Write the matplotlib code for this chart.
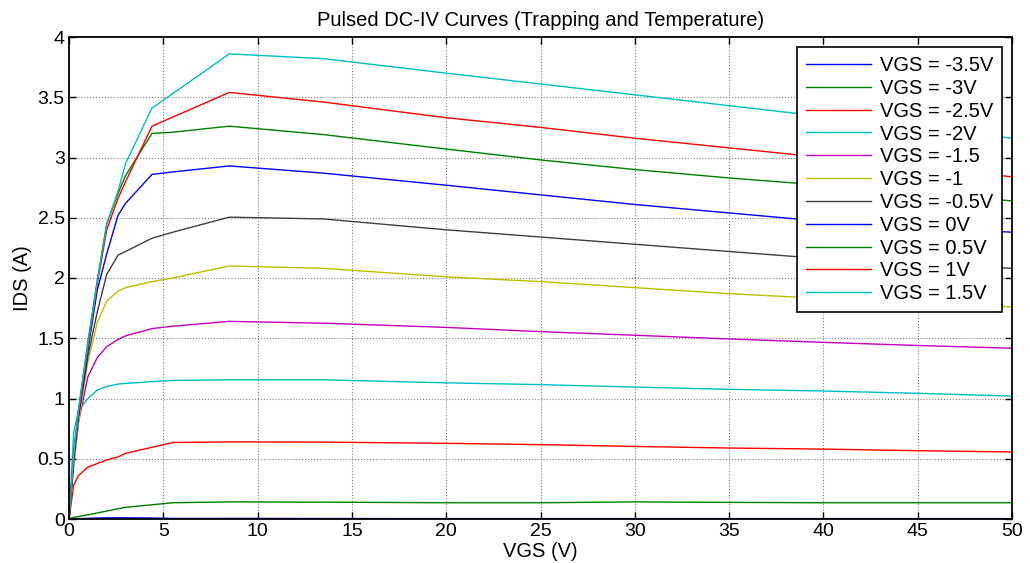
import matplotlib
matplotlib.use("Agg")
import matplotlib.pyplot as plt

plt.rcParams['font.family'] = ['Liberation Sans', 'DejaVu Sans']

# ---- data ----
vds = [0, 0.25, 0.5, 1, 1.5, 2, 2.6, 3, 4.4, 5.5, 8.5, 13.5, 20, 25, 30, 35, 40, 45, 50]

labels = ["VGS = -3.5V", "VGS = -3V", "VGS = -2.5V", "VGS = -2V", "VGS = -1.5",
          "VGS = -1", "VGS = -0.5V", "VGS = 0V", "VGS = 0.5V", "VGS = 1V", "VGS = 1.5V"]

ids_m35 = [0, 0.002, 0.003, 0.005, 0.008, 0.01, 0.01, 0.01, 0.008, 0.005, 0.005, 0.004,
           0.003, 0.003, 0.003, 0.003, 0.003, 0.003, 0.003]
ids_m30 = [0, 0.015, 0.02, 0.035, 0.05, 0.066, 0.085, 0.097, 0.118, 0.135, 0.142, 0.14,
           0.135, 0.135, 0.142, 0.138, 0.135, 0.135, 0.135]
ids_m25 = [0, 0.28, 0.36, 0.43, 0.46, 0.49, 0.515, 0.545, 0.595, 0.635, 0.64, 0.638,
           0.628, 0.617, 0.602, 0.589, 0.58, 0.567, 0.556]
ids_m20 = [0, 0.72, 0.9, 1.0, 1.07, 1.10, 1.12, 1.125, 1.14, 1.15, 1.155, 1.155,
           1.13, 1.115, 1.095, 1.076, 1.062, 1.043, 1.02]
ids_m15 = [0, 0.45, 0.8, 1.18, 1.34, 1.43, 1.49, 1.52, 1.58, 1.60, 1.64, 1.625,
           1.59, 1.555, 1.525, 1.494, 1.466, 1.44, 1.417]
ids_m10 = [0, 0.45, 0.8, 1.3, 1.63, 1.81, 1.89, 1.92, 1.97, 2.0, 2.10, 2.08,
           2.01, 1.97, 1.92, 1.87, 1.83, 1.80, 1.76]
ids_m05 = [0, 0.5, 0.85, 1.35, 1.72, 2.03, 2.19, 2.22, 2.33, 2.38, 2.505, 2.49,
           2.40, 2.34, 2.28, 2.22, 2.16, 2.12, 2.08]
ids_p00 = [0, 0.5, 0.85, 1.4, 1.9, 2.2, 2.52, 2.62, 2.86, 2.88, 2.93, 2.87,
           2.77, 2.69, 2.61, 2.54, 2.47, 2.42, 2.38]
ids_p05 = [0, 0.55, 0.9, 1.47, 1.98, 2.45, 2.70, 2.85, 3.20, 3.21, 3.26, 3.19,
           3.07, 2.98, 2.90, 2.83, 2.77, 2.70, 2.64]
ids_p10 = [0, 0.52, 0.88, 1.43, 1.95, 2.4, 2.66, 2.80, 3.26, 3.335, 3.54, 3.46,
           3.33, 3.25, 3.16, 3.08, 3.00, 2.92, 2.84]
ids_p15 = [0, 0.55, 0.9, 1.45, 1.97, 2.45, 2.72, 2.95, 3.41, 3.53, 3.86, 3.82,
           3.70, 3.61, 3.52, 3.43, 3.34, 3.25, 3.16]

series = [ids_m35, ids_m30, ids_m25, ids_m20, ids_m15, ids_m10, ids_m05,
          ids_p00, ids_p05, ids_p10, ids_p15]

xticks = [0, 5, 10, 15, 20, 25, 30, 35, 40, 45, 50]
yticks = [0, 0.5, 1, 1.5, 2, 2.5, 3, 3.5, 4]
yticklabels = ["0", "0.5", "1", "1.5", "2", "2.5", "3", "3.5", "4"]

colors = ['#0000ff', '#008000', '#ff0000', '#00bfbf', '#bf00bf', '#bfbf00', '#404040',
          '#0000ff', '#008000', '#ff0000', '#00bfbf']

fig = plt.figure(figsize=(10.3, 5.63), dpi=100)
ax = fig.add_axes([69/1030, 1 - 519/563, (1012-69)/1030, (519-37)/563])

for ys, c, lab in zip(series, colors, labels):
    ax.plot(vds, ys, color=c, lw=1.0, label=lab)

ax.set_xlim(0, 50)
ax.set_ylim(0, 4)
ax.set_xticks(xticks)
ax.set_yticks(yticks)
ax.set_yticklabels(yticklabels)
ax.tick_params(direction='in', length=5, width=1, top=True, right=True,
               labelsize=14, pad=3)
for s in ax.spines.values():
    s.set_linewidth(1.3)
ax.grid(True, color='#808080', linestyle=':', linewidth=0.8)
ax.set_axisbelow(True)

ax.set_title("Pulsed DC-IV Curves (Trapping and Temperature)", fontsize=14.5, pad=8)
ax.set_xlabel("VGS (V)", fontsize=14.5, labelpad=1)
ax.set_ylabel("IDS (A)", fontsize=14.5, labelpad=4)

leg = ax.legend(loc='upper right', bbox_to_anchor=(1002/1030, 1 - 47/563),
                bbox_transform=fig.transFigure, fontsize=14.5, frameon=True,
                fancybox=False, framealpha=1, edgecolor='black',
                handlelength=3.2, handletextpad=0.45, labelspacing=0.19,
                borderpad=0.45, borderaxespad=0)
leg.get_frame().set_linewidth(1.2)

fig.savefig("out.png", dpi=100)
